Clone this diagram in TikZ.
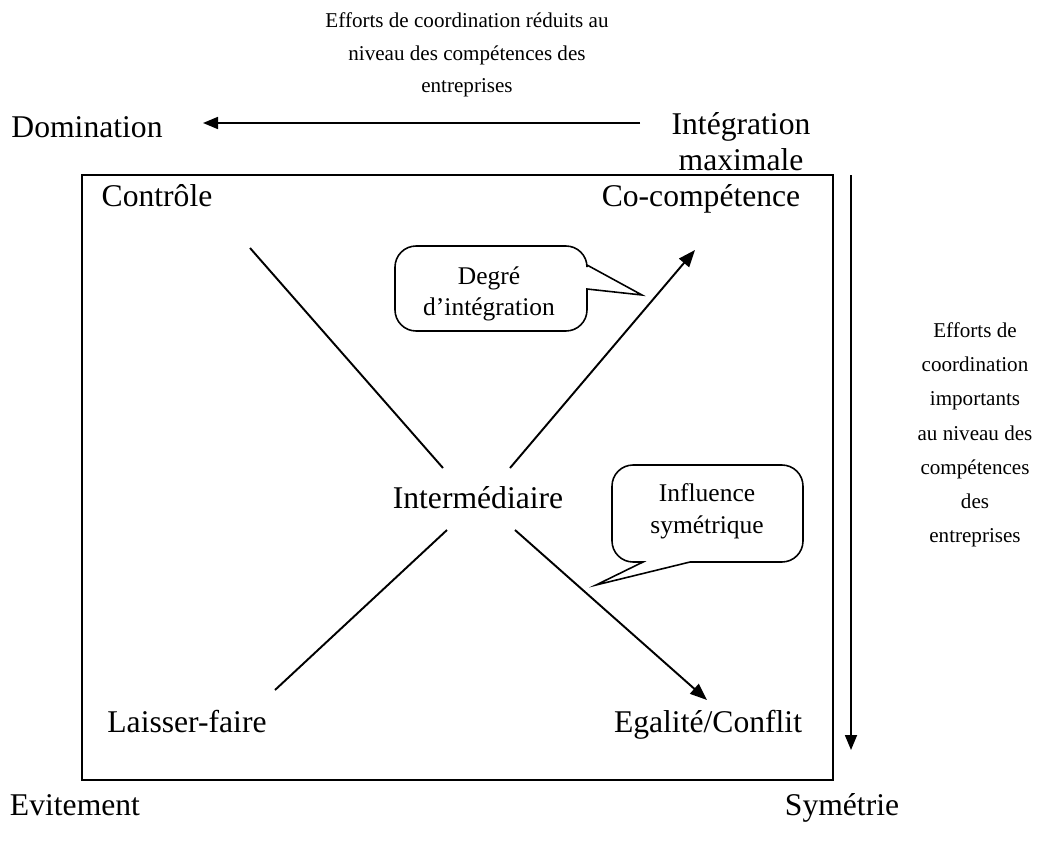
\documentclass[tikz,border=0pt]{standalone}
\usepackage{fontspec}
\setmainfont{Liberation Serif}
\usetikzlibrary{arrows.meta}

\tikzset{
  big/.style={font=\fontsize{18}{20}\selectfont, inner sep=0pt, anchor=base},
  note/.style={font=\fontsize{12}{19.5}\selectfont, inner sep=0pt, align=center},
  bubble/.style={font=\fontsize{14.5}{18}\selectfont, inner sep=0pt, align=center},
  axis/.style={line width=1pt, -{Triangle[length=3mm, width=2.4mm]}},
  diag/.style={line width=1.1pt},
  diagarrow/.style={line width=1.1pt, -{Triangle[length=3.4mm, width=2.6mm]}},
  callout/.style={line width=0.9pt}
}

\begin{document}
\begin{tikzpicture}[x=0.2mm, y=-0.2mm]
    \useasboundingbox (0,0) rectangle (1051,854);

    % Top axis: from maximal integration towards domination
    \node[note, font=\fontsize{12}{18.4}\selectfont] (topnote) at (467,55) {Efforts de coordination r\'eduits au\\niveau des comp\'etences des\\entreprises};
    \node[big] (dom) at (87,137) {Domination};
    \node[big, align=center] (intg) at (741,170) {Int\'egration\\maximale};
    \coordinate (hstart) at (640,123);
    \coordinate (hend) at (203,123);
    \draw[axis] (hstart) -- (hend);

    % Main frame
    \draw[line width=0.9pt] (82,175) rectangle (833,780);

    % Corner labels
    \node[big] (ctl) at (157,206) {Contr\^ole};
    \node[big] (coc) at (701,206) {Co-comp\'etence};
    \node[big] (lf) at (187,732) {Laisser-faire};
    \node[big] (eg) at (708,732) {Egalit\'e/Conflit};
    \node[big] (mid) at (478,508) {Interm\'ediaire};

    % Diagonals
    \coordinate (ulA) at (250,248);
    \coordinate (ulB) at (443,468);
    \coordinate (urA) at (510,468);
    \coordinate (urB) at (695,250);
    \coordinate (llA) at (275,690);
    \coordinate (llB) at (447,530);
    \coordinate (lrA) at (515,530);
    \coordinate (lrB) at (707,700);
    \draw[diag] (ulA) -- (ulB);
    \draw[diagarrow] (urA) -- (urB);
    \draw[diag] (llA) -- (llB);
    \draw[diagarrow] (lrA) -- (lrB);

    % Callout: degree of integration
    \draw[callout] (587,289) [rounded corners=12pt] -- (587,331) -- (395,331) -- (395,246) -- (587,246) [sharp corners] -- (587,265) -- (642,295) -- cycle;
    \node[bubble] (deg) at (489,294) {Degr\'e\\d'int\'egration};

    % Callout: symmetric influence
    \draw[callout] (690,562) [rounded corners=12pt] -- (803,562) -- (803,465) -- (612,465) -- (612,562) [sharp corners] -- (643,562) -- (596,585) -- cycle;
    \node[bubble] (infl) at (707,511) {Influence\\sym\'etrique};

    % Right axis
    \coordinate (vstart) at (851,175);
    \coordinate (vend) at (851,750);
    \draw[axis] (vstart) -- (vend);
    \node[note] (sidenote) at (975,435) {Efforts de\\coordination\\importants\\au niveau des\\comp\'etences\\des\\entreprises};

    % Bottom labels
    \node[big] (evit) at (75,815) {Evitement};
    \node[big] (sym) at (842,815) {Sym\'etrie};
\end{tikzpicture}
\end{document}
